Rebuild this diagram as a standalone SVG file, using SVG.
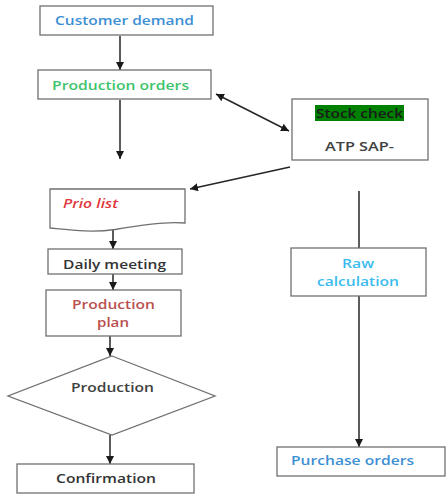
<svg xmlns="http://www.w3.org/2000/svg" width="446" height="494" viewBox="0 0 446 494">
<defs>
<marker id="ah" viewBox="0 0 10 10" refX="10" refY="5" markerWidth="8" markerHeight="8" markerUnits="userSpaceOnUse" orient="auto-start-reverse">
<path d="M0,0 L10,5 L0,10 Z" fill="#1a1a1a"/>
</marker>
</defs>
<style>
.box{fill:#fff;stroke:#707070;stroke-width:1.3}
.t{font-family:"Open Sans","Noto Sans","Liberation Sans",sans-serif;font-size:13px;font-weight:600;text-anchor:middle}
.c{stroke:#262626;stroke-width:1.5;fill:none}
.ca{stroke:#262626;stroke-width:1.5;fill:none;marker-end:url(#ah)}
</style>
<rect width="446" height="494" fill="#fff"/>
<g id="connectors">
<line class="ca" x1="120" y1="36" x2="120" y2="70"/>
<line class="ca" x1="120" y1="100" x2="120" y2="159"/>
<line class="c" x1="216" y1="94" x2="289" y2="131" marker-start="url(#ah)" marker-end="url(#ah)"/>
<line class="ca" x1="290" y1="167" x2="190" y2="189"/>
<line class="ca" x1="113" y1="229" x2="113" y2="249"/>
<line class="ca" x1="113" y1="274" x2="113" y2="290"/>
<line class="ca" x1="110" y1="336" x2="110" y2="356"/>
<line class="ca" x1="110" y1="435" x2="110" y2="464"/>
<line class="c" x1="359" y1="191" x2="359" y2="248"/>
<line class="ca" x1="359" y1="296" x2="359" y2="447"/>
</g>
<g id="customer-demand">
<rect class="box" x="40" y="6" width="173" height="29"/>
<text class="t" x="124.5" y="24.5" fill="#3d8fd4" textLength="139" lengthAdjust="spacingAndGlyphs">Customer demand</text>
</g>
<g id="production-orders">
<rect class="box" x="38" y="70" width="173" height="29"/>
<text class="t" x="120.5" y="89.5" fill="#3cc46a" textLength="137" lengthAdjust="spacingAndGlyphs">Production orders</text>
</g>
<g id="stock-check">
<rect class="box" x="292" y="99" width="136" height="61"/>
<rect x="315" y="105" width="89" height="16" fill="#008000"/>
<text class="t" x="359.5" y="118" fill="#1a1a1a" textLength="87" lengthAdjust="spacingAndGlyphs">Stock check</text>
<text class="t" x="359.5" y="150.5" fill="#404040" textLength="69" lengthAdjust="spacingAndGlyphs">ATP SAP-</text>
</g>
<g id="prio-list">
<path class="box" d="M50,189 L185,189 L185,223 C165,221 140,225 115,229.5 C92,233 70,230 50,228 Z"/>
<text class="t" x="90.5" y="207.5" fill="#e0383c" font-style="italic" textLength="55" lengthAdjust="spacingAndGlyphs">Prio list</text>
</g>
<g id="daily-meeting">
<rect class="box" x="48" y="249" width="134" height="25"/>
<text class="t" x="114.5" y="268.5" fill="#333" textLength="103" lengthAdjust="spacingAndGlyphs">Daily meeting</text>
</g>
<g id="production-plan">
<rect class="box" x="46" y="290" width="135" height="46"/>
<text class="t" x="113.5" y="308.5" fill="#b9504e" textLength="83" lengthAdjust="spacingAndGlyphs">Production</text>
<text class="t" x="113" y="326.5" fill="#b9504e" textLength="32" lengthAdjust="spacingAndGlyphs">plan</text>
</g>
<g id="production">
<polygon class="box" points="112,356 215,396 112,435 8,396"/>
<text class="t" x="112.5" y="391.5" fill="#404040" textLength="83" lengthAdjust="spacingAndGlyphs">Production</text>
</g>
<g id="confirmation">
<rect class="box" x="17" y="464" width="177" height="29"/>
<text class="t" x="106" y="482.5" fill="#333" textLength="100" lengthAdjust="spacingAndGlyphs">Confirmation</text>
</g>
<g id="raw-calculation">
<rect class="box" x="291" y="248" width="135" height="48"/>
<text class="t" x="358" y="267.5" fill="#3cbcee" textLength="32" lengthAdjust="spacingAndGlyphs">Raw</text>
<text class="t" x="358" y="285.5" fill="#3cbcee" textLength="82" lengthAdjust="spacingAndGlyphs">calculation</text>
</g>
<g id="purchase-orders">
<rect class="box" x="277" y="447" width="168" height="29"/>
<text class="t" x="352.5" y="464.5" fill="#3d8fd4" textLength="123" lengthAdjust="spacingAndGlyphs">Purchase orders</text>
</g>
</svg>
